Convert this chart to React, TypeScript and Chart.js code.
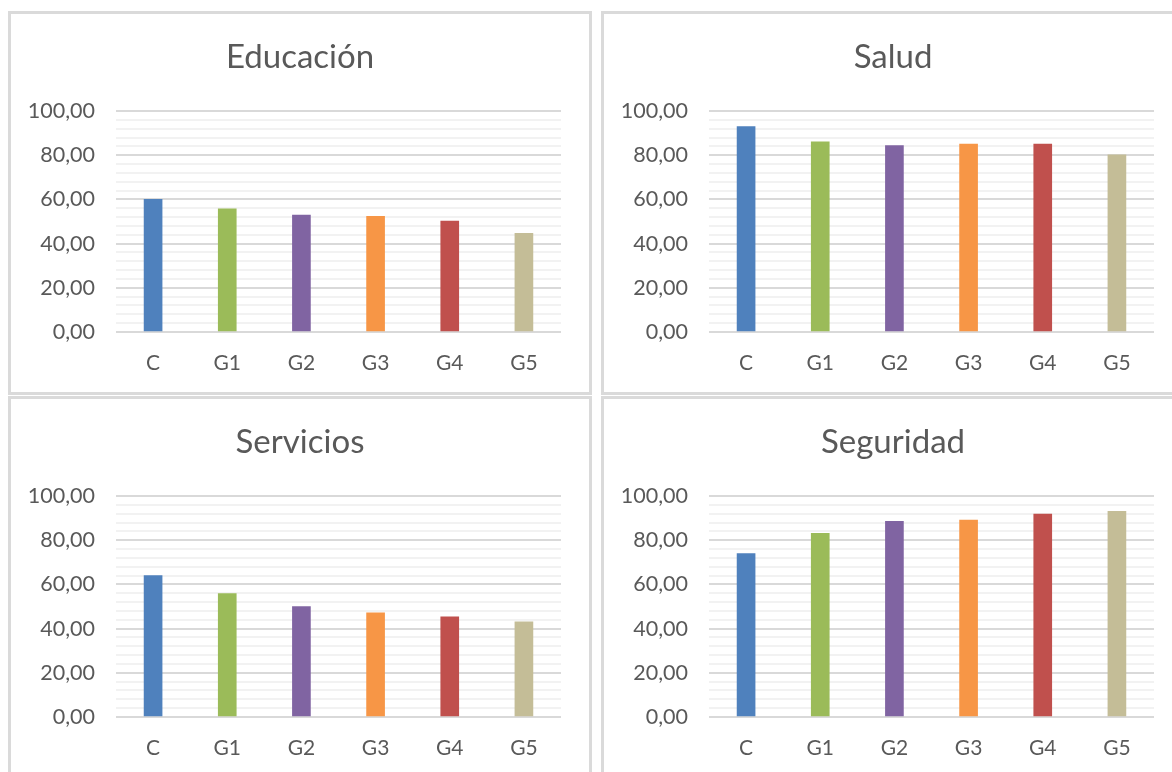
import React, { useEffect, useRef } from "react";
import { Chart, registerables } from "chart.js";

Chart.register(...registerables);

const categories = ["C", "G1", "G2", "G3", "G4", "G5"];
const educacion = [60.0, 55.7, 52.9, 52.3, 50.2, 44.7];
const salud = [93.0, 86.1, 84.4, 85.0, 85.0, 80.2];
const servicios = [64.0, 55.9, 50.0, 47.1, 45.3, 43.1];
const seguridad = [73.9, 83.1, 88.5, 89.1, 91.8, 93.1];
const barColors = ["#4f81bd", "#9bbb59", "#8064a2", "#f79646", "#c0504d", "#c4bd97"];

const FONT = "Lato, 'Open Sans', sans-serif";
const TEXT = "#595959";
const PANEL_W = 584;
const PANEL_H = 384;

const fmt = (v: number) => v.toFixed(2).replace(".", ",");
const isMajor = (v: number) => Math.abs(v / 20 - Math.round(v / 20)) < 1e-6;

function Panel({ title, values, left, top }: { title: string; values: number[]; left: number; top: number }) {
  const ref = useRef<HTMLCanvasElement>(null);
  useEffect(() => {
    if (!ref.current) return;
    const chart = new Chart(ref.current, {
      type: "bar",
      data: {
        labels: categories,
        datasets: [{ data: values, backgroundColor: barColors, barThickness: 18 }],
      },
      options: {
        responsive: false,
        animation: false,
        devicePixelRatio: 1,
        layout: { padding: 0 },
        plugins: {
          legend: { display: false },
          tooltip: { enabled: false },
          title: {
            display: true,
            text: title,
            color: TEXT,
            font: { family: FONT, size: 33, weight: "normal" as any },
            padding: { top: 27, bottom: 33.4 },
          },
        },
        scales: {
          x: {
            grid: { display: false, drawTicks: false },
            border: { display: false },
            ticks: { color: TEXT, font: { family: FONT, size: 21 }, padding: 19 },
            afterFit: (s: any) => {
              s.height = 63;
            },
          },
          y: {
            min: 0,
            max: 100,
            border: { display: false },
            grid: {
              drawTicks: false,
              color: (ctx: any) => (ctx.tick && isMajor(ctx.tick.value) ? "#d9d9d9" : "#f2f2f2"),
              lineWidth: 2,
            },
            ticks: {
              stepSize: 4,
              autoSkip: false,
              padding: 21,
              color: TEXT,
              font: { family: FONT, size: 21.5 },
              callback: (v: any) => (isMajor(Number(v)) ? fmt(Number(v)) : ""),
            },
            afterFit: (s: any) => {
              s.width = 108;
            },
          },
          spacer: {
            type: "linear",
            position: "right",
            display: true,
            min: 0,
            max: 100,
            grid: { display: false, drawTicks: false },
            border: { display: false },
            ticks: { display: false },
            afterFit: (s: any) => {
              s.width = 31;
            },
          },
        },
      },
    });
    return () => chart.destroy();
  }, []);
  return (
    <div
      style={{
        position: "absolute",
        left,
        top,
        width: PANEL_W,
        height: PANEL_H,
        boxSizing: "border-box",
        border: "3px solid #dadada",
        background: "#fff",
      }}
    >
      <canvas
        ref={ref}
        width={PANEL_W}
        height={PANEL_H}
        style={{ position: "absolute", left: -3, top: -3, width: PANEL_W, height: PANEL_H }}
      />
    </div>
  );
}

export default function App() {
  return (
    <div
      style={{
        position: "fixed",
        left: 0,
        top: 0,
        width: 1172,
        height: 772,
        overflow: "hidden",
        background: "#fff",
      }}
    >
      <Panel title="Educación" values={educacion} left={8} top={11} />
      <Panel title="Salud" values={salud} left={601} top={11} />
      <Panel title="Servicios" values={servicios} left={8} top={396} />
      <Panel title="Seguridad" values={seguridad} left={601} top={396} />
    </div>
  );
}
